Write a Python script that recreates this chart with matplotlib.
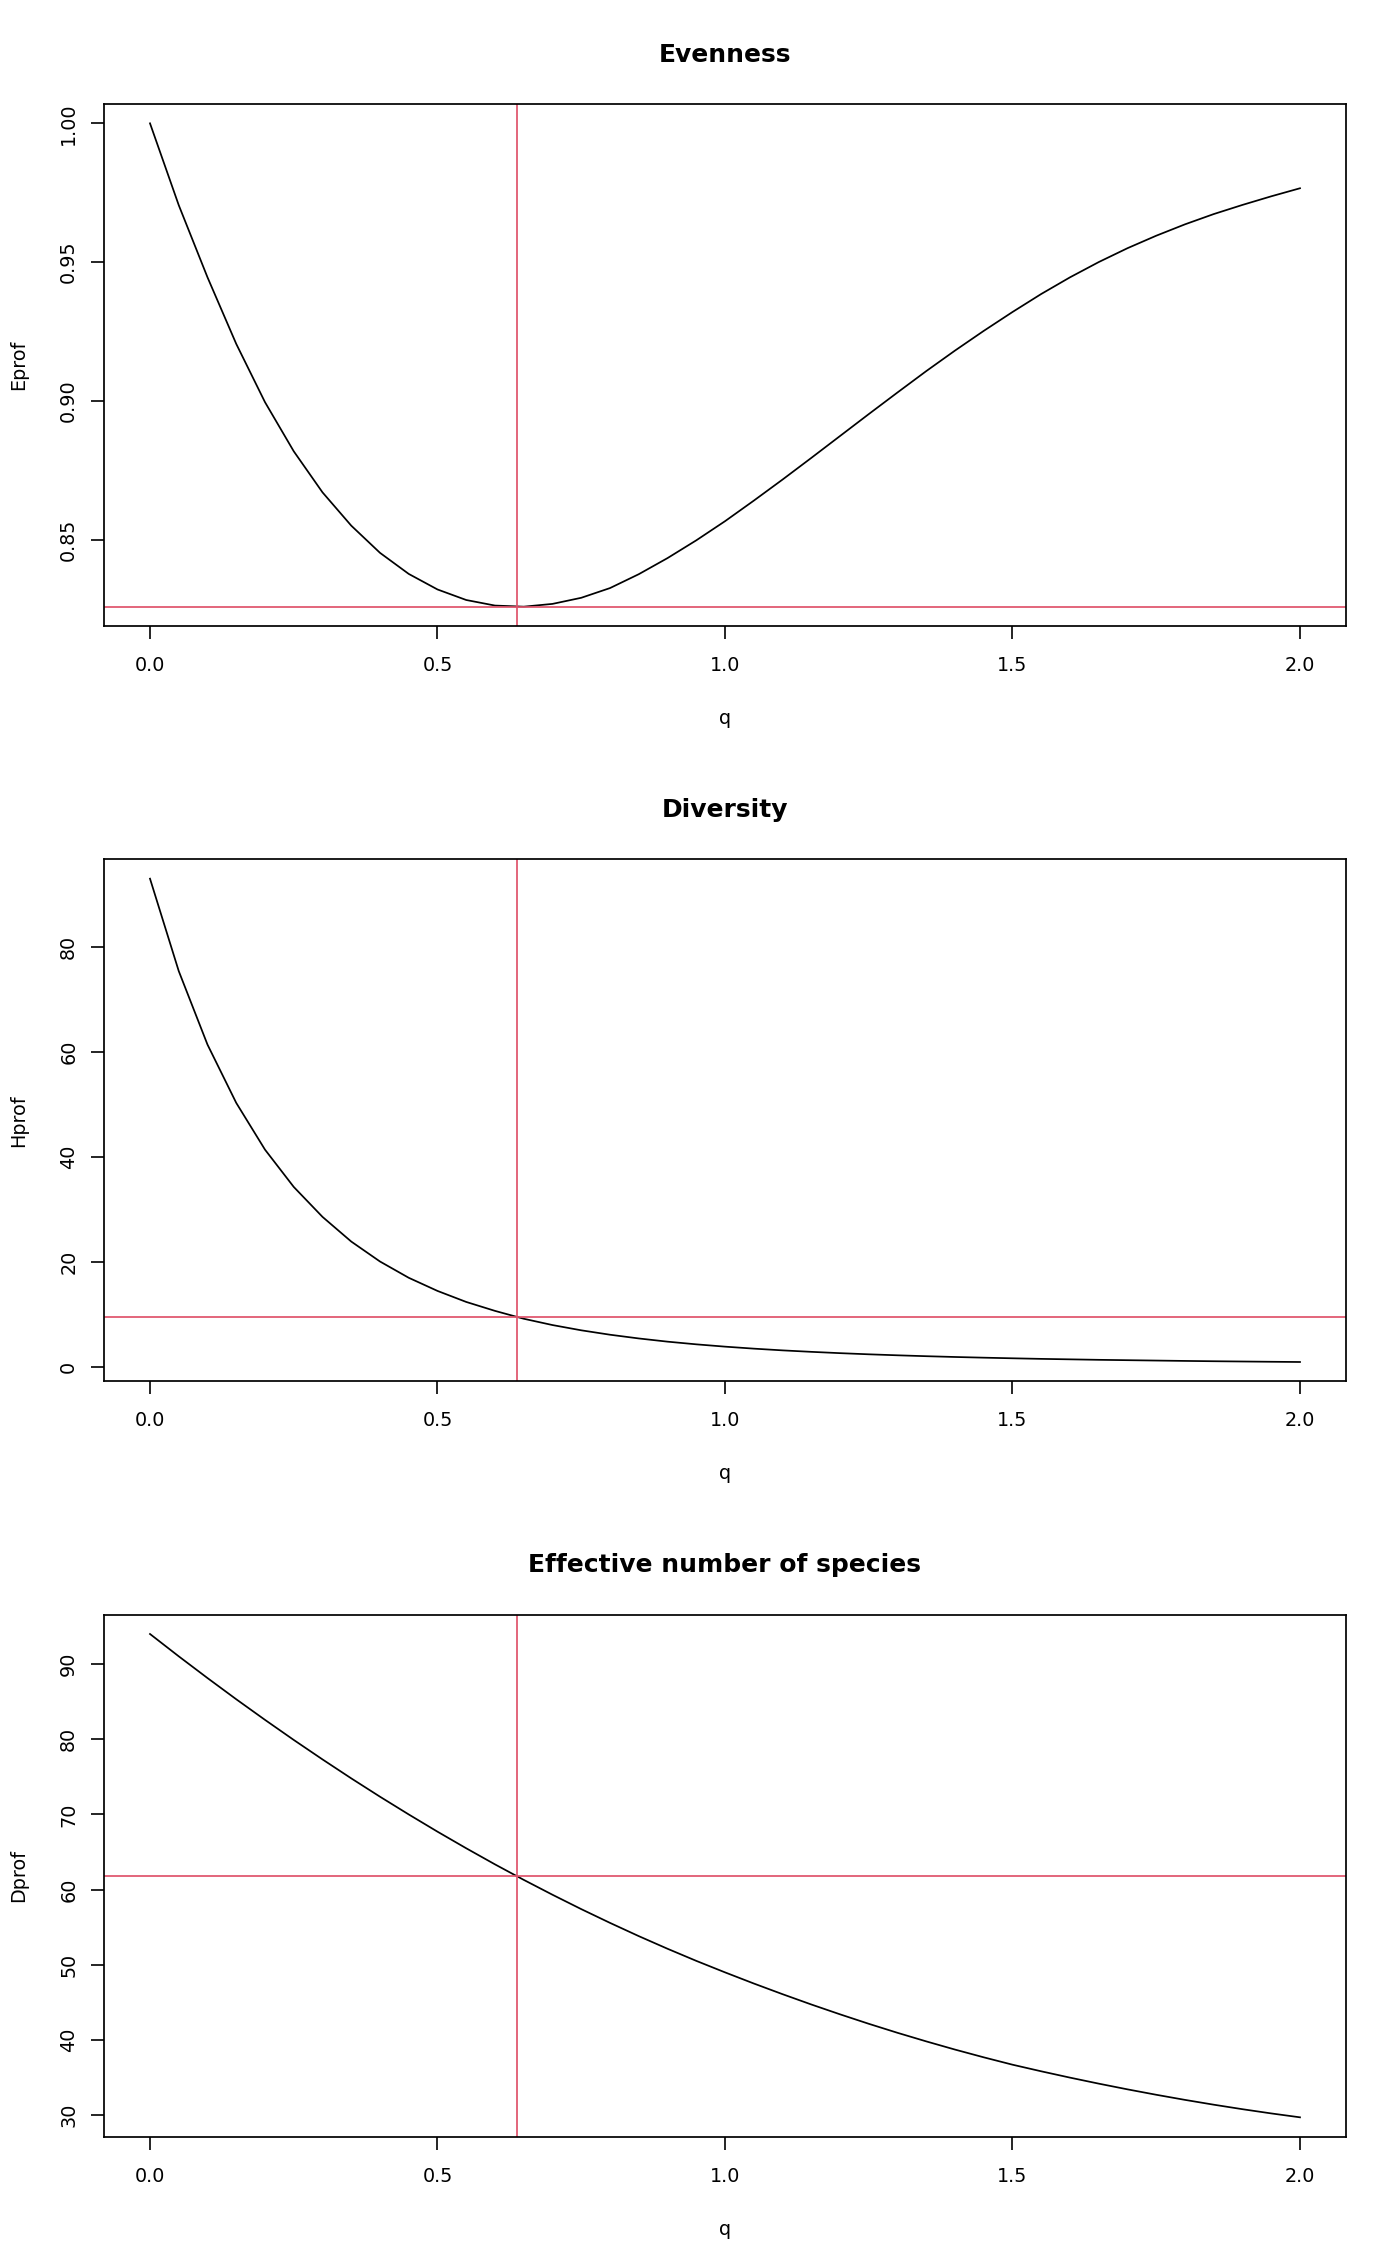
import numpy as np
import matplotlib
matplotlib.use("Agg")
import matplotlib.pyplot as plt

plt.rcParams['font.family'] = ['DejaVu Sans']

# q grid of the profiles
q = [0.00, 0.05, 0.10, 0.15, 0.20, 0.25, 0.30, 0.35, 0.40, 0.45,
     0.50, 0.55, 0.60, 0.65, 0.70, 0.75, 0.80, 0.85, 0.90, 0.95,
     1.00, 1.05, 1.10, 1.15, 1.20, 1.25, 1.30, 1.35, 1.40, 1.45,
     1.50, 1.55, 1.60, 1.65, 1.70, 1.75, 1.80, 1.85, 1.90, 1.95, 2.00]

# evenness profile
Eprof = [1.0000, 0.9705, 0.9445, 0.9205, 0.8995, 0.8818, 0.8670, 0.8550, 0.8452, 0.8376,
         0.8320, 0.8282, 0.8262, 0.8258, 0.8268, 0.8290, 0.8325, 0.8375, 0.8433, 0.8497,
         0.8566, 0.8640, 0.8716, 0.8794, 0.8873, 0.8952, 0.9030, 0.9107, 0.9181, 0.9252,
         0.9320, 0.9385, 0.9445, 0.9500, 0.9550, 0.9595, 0.9636, 0.9673, 0.9706, 0.9737, 0.9766]

# diversity (entropy) profile
Hprof = [93.0, 75.4, 61.4, 50.3, 41.4, 34.3, 28.6, 23.9, 20.1, 17.0,
         14.5, 12.4, 10.7, 9.2, 8.0, 7.0, 6.16, 5.45, 4.84, 4.33,
         3.89, 3.51, 3.18, 2.90, 2.65, 2.43, 2.24, 2.07, 1.92, 1.79,
         1.67, 1.56, 1.47, 1.38, 1.31, 1.24, 1.17, 1.11, 1.06, 1.01, 0.966]

# effective number of species
Dprof = [94.00, 91.03, 88.14, 85.32, 82.58, 79.91, 77.32, 74.80, 72.36, 70.00,
         67.71, 65.50, 63.36, 61.30, 59.32, 57.41, 55.58, 53.82, 52.14, 50.53,
         49.00, 47.52, 46.10, 44.73, 43.42, 42.16, 40.96, 39.82, 38.73, 37.70,
         36.72, 35.84, 35.00, 34.20, 33.44, 32.72, 32.04, 31.40, 30.80, 30.24, 29.72]

# q where evenness is minimal, and the values there
q_min = 0.638
E_min = 0.8257
H_min = 9.45
D_min = 61.8

panels = [
    ("Evenness", "Eprof", Eprof, E_min, [0.85, 0.90, 0.95, 1.00], ["0.85", "0.90", "0.95", "1.00"]),
    ("Diversity", "Hprof", Hprof, H_min, [0, 20, 40, 60, 80], ["0", "20", "40", "60", "80"]),
    ("Effective number of species", "Dprof", Dprof, D_min,
     [30, 40, 50, 60, 70, 80, 90], ["30", "40", "50", "60", "70", "80", "90"]),
]

W, H = 1400, 2266
fig = plt.figure(figsize=(W / 100, H / 100), dpi=100)

red = "#DF536B"
fs = 13.8
ax_h = 522
for k, (title, ylab, vals, hval, yt, ytl) in enumerate(panels):
    top = 104 + k * 755.33
    ax = fig.add_axes([104 / W, 1 - (top + ax_h) / H, 1242 / W, ax_h / H])
    ax.plot(q, vals, color="black", lw=1.25)
    ax.axvline(q_min, color=red, lw=1.25)
    ax.axhline(hval, color=red, lw=1.25)

    ax.set_xlim(-0.08, 2.08)
    lo, hi = min(vals), max(vals)
    r = hi - lo
    ax.set_ylim(lo - 0.04 * r, hi + 0.04 * r)

    ax.set_xticks([0.0, 0.5, 1.0, 1.5, 2.0])
    ax.set_xticklabels(["0.0", "0.5", "1.0", "1.5", "2.0"], fontsize=fs)
    ax.set_yticks(yt)
    ax.set_yticklabels(ytl, fontsize=fs, rotation=90, va="center", ha="right")
    ax.tick_params(axis="x", length=9.6, width=1.2, pad=12.0)
    ax.tick_params(axis="y", length=9.6, width=1.2, pad=9.0)
    for s in ax.spines.values():
        s.set_linewidth(1.25)

    ax.text(0.5, 1 + 42.4 / ax_h, title, transform=ax.transAxes, ha="center",
            va="baseline", fontsize=18, fontweight="bold")
    ax.text(0.5, -98 / ax_h, "q", transform=ax.transAxes, ha="center",
            va="baseline", fontsize=fs)
    ax.text(-80 / 1242, 0.5, ylab, transform=ax.transAxes, ha="center",
            va="baseline", rotation=90, rotation_mode="anchor", fontsize=fs)

fig.savefig("out.png", dpi=100)
